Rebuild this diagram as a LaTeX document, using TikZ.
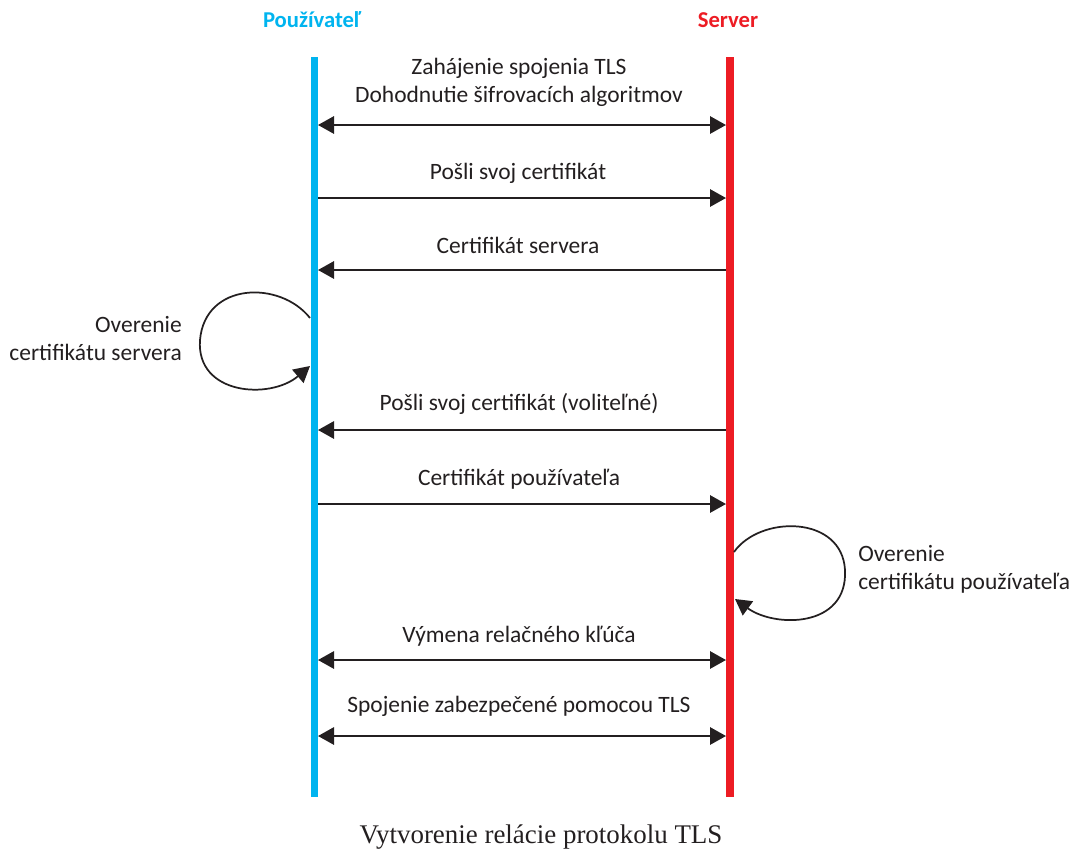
\documentclass[tikz,border=0pt]{standalone}
\usepackage{fontspec}
\setmainfont{Carlito}
\newfontfamily\captionfont{Liberation Serif}
\usetikzlibrary{arrows.meta}
\definecolor{userblue}{HTML}{00B4EF}
\definecolor{serverred}{HTML}{ED1C24}
\definecolor{ink}{HTML}{231F20}
\tikzset{
  lifeline/.style={line width=5.5pt},
  msg/.style={draw=ink, line width=1.5pt, -{Triangle[length=12pt,width=13pt]}},
  bimsg/.style={draw=ink, line width=1.5pt, {Triangle[length=12pt,width=13pt]}-{Triangle[length=12pt,width=13pt]}},
  loopmsg/.style={draw=ink, line width=1.3pt, -{Triangle[length=12pt,width=13pt]}},
  lbl/.style={text=ink, font=\fontsize{17.6}{21}\selectfont, inner sep=0pt},
  head/.style={font=\bfseries\fontsize{17}{20}\selectfont, inner sep=0pt},
}
\begin{document}
\begin{tikzpicture}[x=0.75pt, y=-0.75pt]
\useasboundingbox (0,0) rectangle (1082,858);

% participants
\node[head, text=userblue] (user) at (312,20) {Používateľ};
\node[head, text=serverred] (server) at (728,20) {Server};

% lifelines
\coordinate (utop) at (314.5,57);
\coordinate (ubot) at (314.5,797);
\coordinate (stop) at (730,57);
\coordinate (sbot) at (730,797);
\draw[lifeline, userblue] (utop) -- (ubot);
\draw[lifeline, serverred] (stop) -- (sbot);

% message endpoints on both lifelines
\foreach \n/\y in {1/125, 2/198, 3/270, 5/430, 6/504, 8/660, 9/736} {
  \coordinate (u\n) at (318,\y);
  \coordinate (s\n) at (726,\y);
}

% messages
\node[lbl, align=center] (t1) at (519,82) {Zahájenie spojenia TLS\\Dohodnutie šifrovacích algoritmov};
\draw[bimsg] (u1) -- (s1);

\node[lbl] (t2) at (518,173) {Pošli svoj certifikát};
\draw[msg] (u2) -- (s2);

\node[lbl] (t3) at (518,245) {Certifikát servera};
\draw[msg] (s3) -- (u3);

\node[lbl] (t5) at (519,404) {Pošli svoj certifikát (voliteľné)};
\draw[msg] (s5) -- (u5);

\node[lbl] (t6) at (519,479) {Certifikát používateľa};
\draw[msg] (u6) -- (s6);

\node[lbl] (t8) at (519,636) {Výmena relačného kľúča};
\draw[bimsg] (u8) -- (s8);

\node[lbl] (t9) at (519,706) {Spojenie zabezpečené pomocou TLS};
\draw[bimsg] (u9) -- (s9);

% self-check on the user side
\coordinate (la) at (310,318);
\coordinate (lb) at (310,366);
\draw[loopmsg] (la) .. controls (280,280) and (205,282) .. (200,340)
               .. controls (196,395) and (270,400) .. (lb);
\node[lbl, align=right, anchor=east] (t4) at (182,339) {Overenie\\certifikátu servera};

% self-check on the server side
\coordinate (ra) at (734,552);
\coordinate (rb) at (735,599);
\draw[loopmsg] (ra) .. controls (760,515) and (842,515) .. (845,570)
               .. controls (848,628) and (775,628) .. (rb);
\node[lbl, align=left, anchor=west] (t7) at (858,569) {Overenie\\certifikátu používateľa};

% caption
\node[text=ink, font=\captionfont\fontsize{20.2}{24}\selectfont, inner sep=0pt] (cap) at (541,837) {Vytvorenie relácie protokolu TLS};
\end{tikzpicture}
\end{document}
